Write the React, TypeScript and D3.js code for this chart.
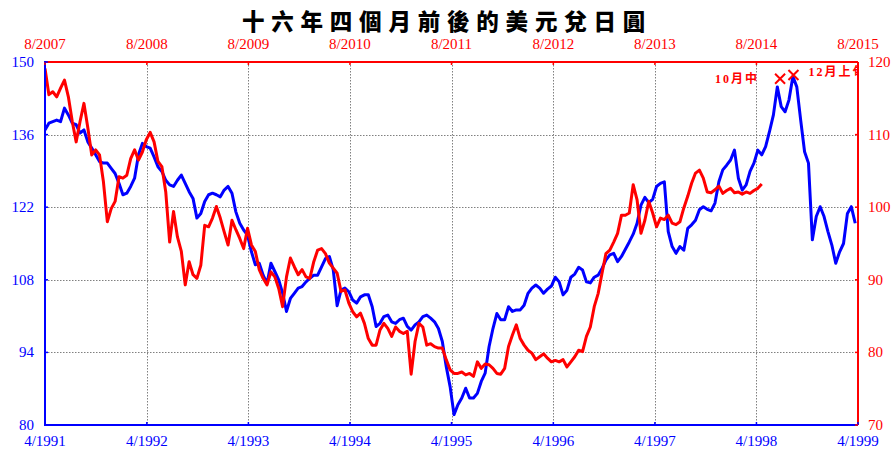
import React, { useEffect, useRef } from "react"
import * as d3 from "d3"

// ---------- Data ----------
const TITLE = "十六年四個月前後的美元兌日圓"

const bottomTicks = ["4/1991", "4/1992", "4/1993", "4/1994", "4/1995", "4/1996", "4/1997", "4/1998", "4/1999"]
const topTicks = ["8/2007", "8/2008", "8/2009", "8/2010", "8/2011", "8/2012", "8/2013", "8/2014", "8/2015"]
const leftTicks = [80, 94, 108, 122, 136, 150]
const rightTicks = [70, 80, 90, 100, 110, 120]

// USD/JPY 1991-1999 (left axis), one value every 14 days
const blueStart = "1991-04-01"
const blueValues = [
    136.9, 138.2, 138.5, 138.8, 138.5, 141.1, 139.8, 138.2, 137.9, 136.3,
    136.9, 134.6, 133.4, 132.1, 130.8, 130.5, 130.5, 129.5, 128.5, 126.6,
    124.4, 124.7, 126.0, 127.6, 132.1, 134.3, 133.7, 133.4, 131.7, 129.8,
    128.9, 127.2, 126.3, 126.0, 127.2, 128.2, 126.6, 125.0, 123.7, 119.9,
    120.8, 123.1, 124.4, 124.7, 124.4, 124.0, 125.3, 126.0, 124.7, 121.1,
    118.9, 117.6, 116.6, 113.4, 110.9, 111.2, 108.9, 107.3, 111.2, 109.6,
    108.0, 105.4, 101.9, 104.4, 105.4, 106.4, 106.7, 107.6, 108.3, 108.9,
    108.9, 110.5, 112.1, 112.5, 109.9, 103.0, 106.0, 106.4, 105.7, 104.1,
    103.5, 104.7, 105.1, 105.1, 102.8, 99.0, 99.6, 100.9, 101.2, 99.9,
    99.6, 100.3, 100.6, 99.0, 98.3, 99.3, 99.9, 100.9, 101.2, 100.6,
    99.9, 98.6, 96.1, 91.3, 87.4, 82.0, 83.9, 85.2, 87.1, 85.2,
    85.2, 86.1, 88.4, 90.0, 95.1, 98.6, 101.5, 100.3, 100.3, 102.8,
    101.9, 102.2, 102.2, 103.1, 105.4, 106.4, 107.0, 106.4, 105.4, 106.2,
    106.8, 108.5, 107.6, 105.1, 106.0, 108.5, 109.1, 110.4, 109.9, 107.6,
    107.4, 108.5, 108.9, 110.2, 111.8, 112.8, 113.1, 111.5, 112.5, 113.9,
    115.3, 116.8, 118.9, 122.4, 123.9, 122.9, 123.5, 126.0, 126.6, 126.9,
    117.3, 114.4, 113.1, 114.4, 113.7, 117.9, 118.6, 119.5, 121.5, 122.1,
    121.6, 121.3, 122.8, 126.9, 129.2, 130.1, 131.1, 133.0, 127.6, 125.3,
    126.3, 128.9, 130.5, 133.0, 132.1, 133.7, 136.6, 139.8, 145.2, 141.4,
    140.4, 142.7, 147.2, 145.2, 138.8, 132.7, 130.5, 115.7, 120.2, 122.1,
    120.2, 117.3, 114.7, 111.2, 113.4, 115.0, 120.8, 122.1, 118.9
]

// USD/JPY 2007-2014 (right axis), one value every 14 days
const redStart = "2007-08-01"
const redValues = [
    119.1, 115.5, 115.9, 115.2, 116.4, 117.5, 115.2, 111.8, 109.0, 111.8,
    114.3, 110.9, 107.2, 107.9, 107.2, 103.5, 98.0, 99.8, 100.8, 104.2,
    104.0, 104.4, 106.7, 107.9, 106.5, 107.6, 109.3, 110.3, 109.0, 106.3,
    105.6, 102.1, 95.2, 99.4, 95.9, 93.9, 89.3, 92.5, 90.7, 90.2,
    92.0, 97.5, 97.3, 98.5, 100.1, 98.5, 96.6, 94.8, 98.2, 96.9,
    95.7, 94.3, 97.1, 94.8, 93.9, 91.4, 90.2, 89.3, 91.1, 90.4,
    88.8, 86.3, 90.4, 93.0, 91.8, 90.7, 91.4, 90.4, 90.2, 92.5,
    94.1, 94.3, 93.6, 92.3, 91.6, 90.9, 88.4, 88.6, 86.8, 85.6,
    84.9, 85.4, 84.0, 81.9, 81.0, 81.0, 83.1, 84.0, 83.3, 82.2,
    83.5, 82.9, 82.6, 82.9, 77.0, 81.5, 84.0, 83.5, 81.0, 81.2,
    80.8, 80.6, 80.6, 79.0, 77.6, 77.1, 77.1, 77.3, 76.9, 77.1,
    76.7, 78.7, 77.8, 78.4, 78.3, 77.8, 77.1, 77.0, 77.8, 80.8,
    82.4, 83.8, 81.9, 81.0, 80.3, 79.9, 79.0, 79.4, 79.8, 79.2,
    78.7, 78.9, 78.7, 79.0, 78.0, 78.7, 79.4, 80.3, 80.1, 82.2,
    83.5, 86.3, 88.1, 90.9, 93.6, 94.1, 95.2, 96.4, 98.9, 98.9,
    99.2, 103.1, 101.0, 96.4, 98.2, 100.8, 99.2, 97.3, 98.5, 98.3,
    98.9, 97.8, 97.6, 98.0, 99.9, 101.5, 103.3, 104.7, 105.1, 104.0,
    102.1, 102.0, 102.4, 102.9, 101.9, 102.3, 102.6, 102.0, 102.1, 101.8,
    102.1, 101.9, 102.3, 102.6, 103.2
]
const stepDays = 14

// projected marks on the 2014 timeline (right axis)
const marks = [
    { date: "2014-10-25", value: 117.7, label: "10月中", side: "left" },
    { date: "2014-12-12", value: 118.2, label: "12月上旬", side: "right" }
]

// ---------- Utilities ----------
const parseTick = (s: string): Date => {
    const [m, y] = s.split("/").map(Number)
    return new Date(y, m - 1, 1)
}
const parseDay = d3.timeParse("%Y-%m-%d")

const BLUE = "#0000ff"
const RED = "#ff0000"
const SERIF = "'Liberation Serif', 'Times New Roman', serif"

// ---------- Component ----------
const App: React.FC = () => {
    const svgRef = useRef<SVGSVGElement>(null)
    const width = 893
    const height = 450

    useEffect(() => {
        if (!svgRef.current) return
        const svg = d3.select(svgRef.current)
        svg.selectAll("*").remove()

        const margin = { top: 62, right: 35, bottom: 25, left: 45 }
        const x0 = margin.left, x1 = width - margin.right
        const y0 = margin.top, y1 = height - margin.bottom

        const xBottom = d3.scaleTime()
            .domain([parseTick(bottomTicks[0]), parseTick(bottomTicks[bottomTicks.length - 1])])
            .range([x0, x1])
        const xTop = d3.scaleTime()
            .domain([parseTick(topTicks[0]), parseTick(topTicks[topTicks.length - 1])])
            .range([x0, x1])
        const yLeft = d3.scaleLinear().domain([80, 150]).range([y1, y0])
        const yRight = d3.scaleLinear().domain([70, 120]).range([y1, y0])

        svg.append("rect").attr("width", width).attr("height", height).attr("fill", "#fff")

        // Title
        svg.append("text")
            .attr("x", 447)
            .attr("y", 29.5)
            .attr("text-anchor", "middle")
            .attr("font-family", "'Noto Sans CJK TC', 'Noto Sans CJK SC', sans-serif")
            .attr("font-weight", 900)
            .attr("font-size", 22.5)
            .attr("letter-spacing", 6.8)
            .attr("fill", "#000")
            .text(TITLE)

        // Grid
        const grid = svg.append("g")
            .attr("stroke", "#808080")
            .attr("stroke-width", 1)
            .attr("stroke-dasharray", "1.5,1.5")
        grid.selectAll(".vgrid")
            .data(bottomTicks.slice(1, -1))
            .enter()
            .append("line")
            .attr("x1", d => Math.round(xBottom(parseTick(d))) + 0.5)
            .attr("x2", d => Math.round(xBottom(parseTick(d))) + 0.5)
            .attr("y1", y0)
            .attr("y2", y1)
        grid.selectAll(".hgrid")
            .data(leftTicks.slice(1, -1))
            .enter()
            .append("line")
            .attr("x1", x0)
            .attr("x2", x1)
            .attr("y1", d => Math.round(yLeft(d)) + 0.5)
            .attr("y2", d => Math.round(yLeft(d)) + 0.5)

        // Series
        svg.append("clipPath").attr("id", "plot-clip")
            .append("rect")
            .attr("x", x0).attr("y", y0)
            .attr("width", x1 - x0).attr("height", y1 - y0)

        const plot = svg.append("g").attr("clip-path", "url(#plot-clip)")

        const blueStartDate = parseDay(blueStart) as Date
        const redStartDate = parseDay(redStart) as Date

        const blueLine = d3.line<number>()
            .x((_, i) => xBottom(d3.timeDay.offset(blueStartDate, i * stepDays)))
            .y(d => yLeft(d))
        const redLine = d3.line<number>()
            .x((_, i) => xTop(d3.timeDay.offset(redStartDate, i * stepDays)))
            .y(d => yRight(d))

        plot.append("path")
            .attr("d", blueLine(blueValues) ?? "")
            .attr("fill", "none")
            .attr("stroke", BLUE)
            .attr("stroke-width", 3)
            .attr("stroke-linejoin", "round")
        plot.append("path")
            .attr("d", redLine(redValues) ?? "")
            .attr("fill", "none")
            .attr("stroke", RED)
            .attr("stroke-width", 3)
            .attr("stroke-linejoin", "round")

        // Marks and labels
        for (const m of marks) {
            const mx = xTop(parseDay(m.date) as Date)
            const my = yRight(m.value)
            const s = 5
            plot.append("path")
                .attr("d", `M${mx - s},${my - s}L${mx + s},${my + s}M${mx - s},${my + s}L${mx + s},${my - s}`)
                .attr("stroke", RED)
                .attr("stroke-width", 2)
                .attr("fill", "none")
            plot.append("text")
                .attr("x", m.side === "left" ? mx - 21 : mx + 15)
                .attr("y", my + (m.side === "left" ? 4 : 1))
                .attr("text-anchor", m.side === "left" ? "end" : "start")
                .attr("font-family", "'Liberation Serif', 'Noto Sans CJK TC', serif")
                .attr("font-weight", "bold")
                .attr("font-size", 12)
                .attr("letter-spacing", 2)
                .attr("fill", RED)
                .text(m.label)
        }

        // Borders
        svg.append("line").attr("x1", x0).attr("x2", x1).attr("y1", y0).attr("y2", y0)
            .attr("stroke", RED).attr("stroke-width", 2)
        svg.append("line").attr("x1", x1).attr("x2", x1).attr("y1", y0).attr("y2", y1)
            .attr("stroke", RED).attr("stroke-width", 2)
        svg.append("line").attr("x1", x0).attr("x2", x0).attr("y1", y0 - 1).attr("y2", y1 + 1)
            .attr("stroke", BLUE).attr("stroke-width", 2)
        svg.append("line").attr("x1", x0).attr("x2", x1).attr("y1", y1).attr("y2", y1)
            .attr("stroke", BLUE).attr("stroke-width", 2)

        // Tick marks
        const tick = 3
        bottomTicks.forEach(t => {
            const x = xBottom(parseTick(t))
            svg.append("line").attr("x1", x).attr("x2", x).attr("y1", y1).attr("y2", y1 - tick)
                .attr("stroke", BLUE).attr("stroke-width", 1.5)
            svg.append("text")
                .attr("x", x).attr("y", 446)
                .attr("text-anchor", "middle")
                .attr("font-family", SERIF).attr("font-size", 15)
                .attr("fill", BLUE)
                .text(t)
        })
        topTicks.forEach(t => {
            const x = xTop(parseTick(t))
            svg.append("line").attr("x1", x).attr("x2", x).attr("y1", y0).attr("y2", y0 + tick)
                .attr("stroke", RED).attr("stroke-width", 1.5)
            svg.append("text")
                .attr("x", x).attr("y", 49)
                .attr("text-anchor", "middle")
                .attr("font-family", SERIF).attr("font-size", 15)
                .attr("fill", RED)
                .text(t)
        })
        leftTicks.forEach(v => {
            const y = yLeft(v)
            svg.append("line").attr("x1", x0).attr("x2", x0 + tick).attr("y1", y).attr("y2", y)
                .attr("stroke", BLUE).attr("stroke-width", 1.5)
            svg.append("text")
                .attr("x", 34).attr("y", y + 5)
                .attr("text-anchor", "end")
                .attr("font-family", SERIF).attr("font-size", 15)
                .attr("fill", BLUE)
                .text(v)
        })
        rightTicks.forEach(v => {
            const y = yRight(v)
            svg.append("line").attr("x1", x1).attr("x2", x1 - tick).attr("y1", y).attr("y2", y)
                .attr("stroke", RED).attr("stroke-width", 1.5)
            svg.append("text")
                .attr("x", 868).attr("y", y + 5)
                .attr("text-anchor", "start")
                .attr("font-family", SERIF).attr("font-size", 15)
                .attr("fill", RED)
                .text(v)
        })
    }, [])

    return (
        <svg
            ref={svgRef}
            width={width}
            height={height}
            style={{ position: "absolute", left: 0, top: 0, display: "block" }}
        />
    )
}

export default App
